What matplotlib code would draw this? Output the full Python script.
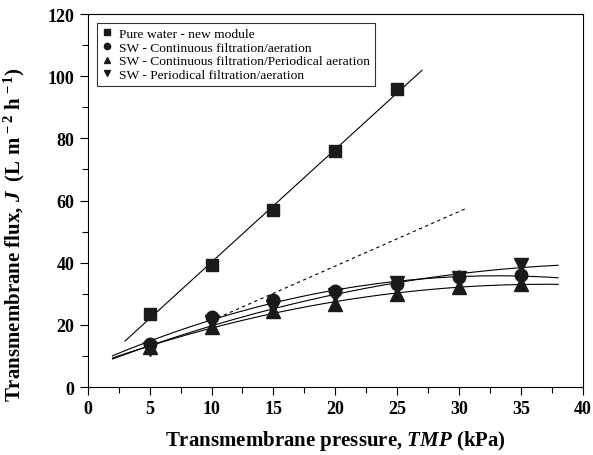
import numpy as np
import matplotlib
matplotlib.use('Agg')
import matplotlib.pyplot as plt
from matplotlib.ticker import MultipleLocator

plt.rcParams['font.family'] = 'Liberation Serif'
plt.rcParams['font.weight'] = 'bold'
plt.rcParams['mathtext.fontset'] = 'custom'
plt.rcParams['mathtext.rm'] = 'Liberation Serif:bold'
plt.rcParams['mathtext.it'] = 'Liberation Serif:italic:bold'
plt.rcParams['mathtext.bf'] = 'Liberation Serif:bold'

# data
tmp = [5, 10, 15, 20, 25, 30, 35]
tmpWater = [5, 10, 15, 20, 25]
pureWater = [23.6, 39.3, 56.8, 76.0, 96.0]
swContinuous = [13.9, 22.6, 27.9, 30.9, 33.0, 35.4, 36.2]
swContPeriodicAer = [12.8, 19.4, 24.5, 26.8, 30.0, 32.1, 33.2]
swPeriodic = [12.3, 21.0, 25.6, 29.5, 33.6, 35.0, 39.4]

# dashed reference line (end points)
dashX = [10.0, 30.7]
dashY = [21.4, 57.7]

fig = plt.figure(figsize=(5.93, 4.56), dpi=100)
ax = fig.add_axes([0.148, 0.149, 0.835, 0.818])

# linear fit for pure water
p = np.polyfit(tmpWater, pureWater, 1)
xl = np.linspace(3, 27, 50)
ax.plot(xl, np.polyval(p, xl), '-k', lw=0.8)

# quadratic trend lines for the SW runs
xc = np.linspace(2, 38, 100)
for yy in (swContinuous, swContPeriodicAer, swPeriodic):
    pc = np.polyfit(tmp, yy, 2)
    ax.plot(xc, np.polyval(pc, xc), '-k', lw=0.8)

ax.plot(dashX, dashY, '--k', lw=0.8, dashes=(3, 3))

ms = 9
ax.plot(tmpWater, pureWater, 's', color='#1a1a1a', ms=ms, label='Pure water - new module')
ax.plot(tmp, swContinuous, 'o', color='#1a1a1a', ms=ms, label='SW - Continuous filtration/aeration')
ax.plot(tmp, swContPeriodicAer, '^', color='#1a1a1a', ms=ms + 0.5, label='SW - Continuous filtration/Periodical aeration')
ax.plot(tmp, swPeriodic, 'v', color='#1a1a1a', ms=ms + 0.5, label='SW - Periodical filtration/aeration')

ax.set_xlim(0, 40)
ax.set_ylim(0, 120)
ax.xaxis.set_major_locator(MultipleLocator(5))
ax.xaxis.set_minor_locator(MultipleLocator(2.5))
ax.yaxis.set_major_locator(MultipleLocator(20))
ax.yaxis.set_minor_locator(MultipleLocator(10))
ax.tick_params(which='major', direction='out', length=6, width=0.8, labelsize=13)
ax.tick_params(which='minor', direction='out', length=4, width=0.8)

ax.set_xlabel(r'Transmembrane pressure, $\it{TMP}$ (kPa)', fontsize=15, fontweight='bold', labelpad=8)
ax.set_ylabel(r'Transmembrane flux, $\it{J}$  (L m$^{\,-2}$ h$^{\,-1}$)', fontsize=15, fontweight='bold')
ax.yaxis.set_label_coords(-0.122, 0.41)

leg = ax.legend(loc='upper left', prop={'size': 9.7, 'weight': 'normal'},
                frameon=True, fancybox=False,
                edgecolor='black', handlelength=0.8, handletextpad=0.5,
                markerscale=0.5, borderpad=0.35, labelspacing=0.1,
                bbox_to_anchor=(0.005, 0.995))
leg.get_frame().set_linewidth(0.8)

fig.savefig('out.png', dpi=100)
